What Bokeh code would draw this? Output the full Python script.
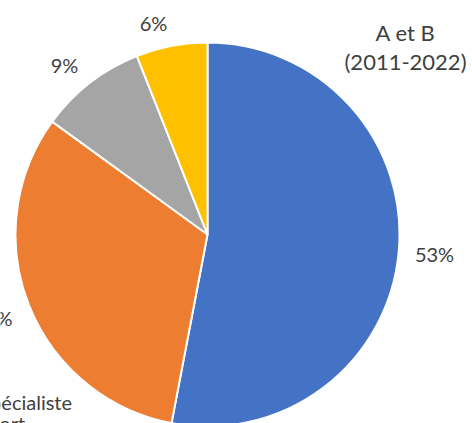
import math
from bokeh.plotting import figure
from bokeh.models import ColumnDataSource, Range1d
from bokeh.core.properties import value
from bokeh.embed import file_html
from bokeh.resources import INLINE

# data
categories = ["A", "Spécialiste sport", "C", "D"]
shares = [53, 32, 9, 6]
labels = ["53%", "32%", "9%", "6%"]
colors = ["#4472C4", "#ED7D31", "#A5A5A5", "#FFC000"]
title_lines = ["A et B", "(2011-2022)"]

W, H = 472, 423
CX, CY, R = 207, H - 234, 192

total = sum(shares)
starts, ends = [], []
acc = 0.0
for s in shares:
    starts.append(math.pi / 2 - 2 * math.pi * acc / total)
    acc += s
    ends.append(math.pi / 2 - 2 * math.pi * acc / total)

src = ColumnDataSource(dict(cat=categories, share=shares, start=starts, end=ends, color=colors))

p = figure(width=W, height=H, output_backend="svg", toolbar_location=None,
           x_range=Range1d(0, W), y_range=Range1d(0, H), min_border=0)
p.styles = {"position": "absolute", "left": "0px", "top": "0px"}
p.axis.visible = False
p.grid.visible = False
p.outline_line_color = None
p.background_fill_color = "white"
p.border_fill_color = "white"

p.wedge(x=CX, y=CY, radius=R, start_angle="start", end_angle="end", direction="clock",
        fill_color="color", line_color="white", line_width=2, source=src)

FONT = value("Lato")
FS = "20px"
# percent labels (screen positions)
lab_x = [434, 12, 64, 153]
lab_y = [H - 253, H - 317, H - 64, H - 22]
lab_align = ["center", "right", "center", "center"]
p.text(x=lab_x, y=lab_y, text=labels, text_align=lab_align, text_baseline="middle",
       text_font=FONT, text_font_size=FS, text_color="#404040")

# title
p.text(x=[405, 405], y=[H - 32, H - 61], text=title_lines, text_align="center",
       text_baseline="middle", text_font=FONT, text_font_size="22px", text_color="#404040")

# cut-off category label
p.text(x=[-21, -21], y=[H - 401, H - 422], text=["Spécialiste", "sport"], text_align="left",
       text_baseline="middle", text_font=FONT, text_font_size=FS, text_color="#404040")

open("out.html", "w").write(file_html(p, INLINE))
